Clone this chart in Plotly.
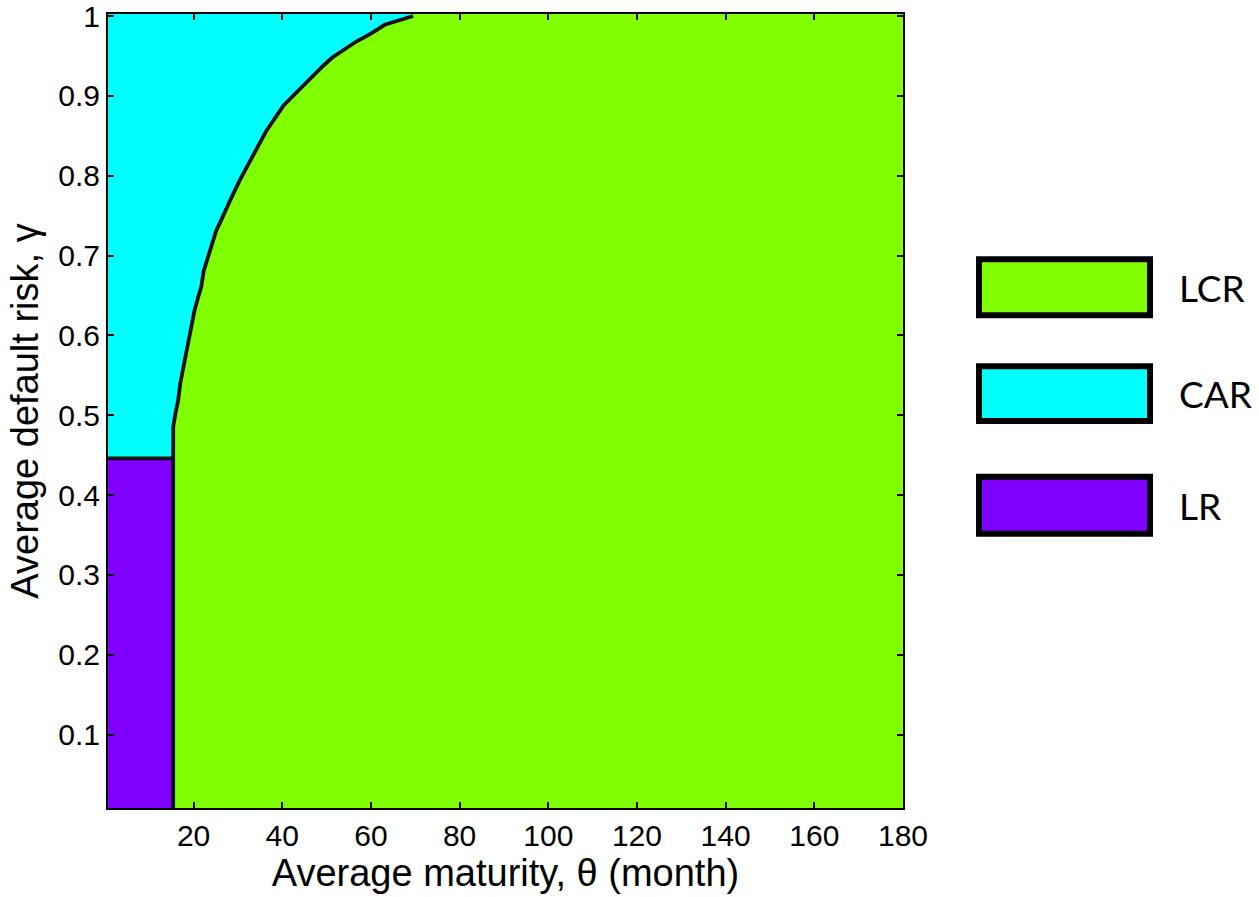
import plotly.graph_objects as go

# ---- data ----
regions = ["LCR", "CAR", "LR"]
region_colors = ["#80FF00", "#00FFFF", "#8000FF"]

# LR region: theta below this, gamma below this
lr_theta_max = 15.4
lr_gamma_max = 0.446

# CAR / LCR boundary (gamma -> theta)
gamma_boundary = [0.446, 0.468, 0.485, 0.502, 0.518, 0.540, 0.560, 0.581, 0.594, 0.615,
                  0.631, 0.647, 0.660, 0.681, 0.697, 0.715, 0.731, 0.744, 0.760, 0.772,
                  0.794, 0.820, 0.856, 0.888, 0.906, 0.928, 0.938, 0.948, 0.957, 0.968,
                  0.978, 0.989, 1.0]
theta_boundary = [15.4, 15.4, 15.4, 15.9, 16.5, 17.0, 17.7, 18.4, 18.9, 19.5,
                  20.2, 21.0, 21.7, 22.3, 23.2, 24.4, 25.1, 26.2, 27.4, 28.5,
                  30.4, 33.0, 36.4, 40.3, 43.5, 47.3, 49.3, 51.3, 53.6, 56.7,
                  60.0, 63.1, 69.5]

x_ticks = [20, 40, 60, 80, 100, 120, 140, 160, 180]
y_ticks = [0.1, 0.2, 0.3, 0.4, 0.5, 0.6, 0.7, 0.8, 0.9, 1.0]
y_ticklabels = ["0.1", "0.2", "0.3", "0.4", "0.5", "0.6", "0.7", "0.8", "0.9", "1"]

x_range = [0.7, 180]
y_range = [0.008, 1.0025]

fig = go.Figure()

# CAR region polygon
car_x = [x_range[0]] + theta_boundary + [theta_boundary[-1], x_range[0]]
car_y = [lr_gamma_max] + gamma_boundary + [y_range[1], y_range[1]]
fig.add_trace(go.Scatter(x=car_x, y=car_y, fill="toself", fillcolor=region_colors[1],
                         mode="none", showlegend=False, hoverinfo="skip"))

# LR region polygon
lr_x = [x_range[0], lr_theta_max, lr_theta_max, x_range[0]]
lr_y = [y_range[0], y_range[0], lr_gamma_max, lr_gamma_max]
fig.add_trace(go.Scatter(x=lr_x, y=lr_y, fill="toself", fillcolor=region_colors[2],
                         mode="none", showlegend=False, hoverinfo="skip"))

# contour outlines
fig.add_trace(go.Scatter(x=[lr_theta_max] + theta_boundary,
                         y=[y_range[0]] + gamma_boundary,
                         mode="lines", line=dict(color="#111111", width=3.8),
                         showlegend=False, hoverinfo="skip"))
fig.add_trace(go.Scatter(x=[x_range[0], lr_theta_max], y=[lr_gamma_max, lr_gamma_max],
                         mode="lines", line=dict(color="#111111", width=3.8),
                         showlegend=False, hoverinfo="skip"))

axis_common = dict(showline=True, linecolor="black", linewidth=2, mirror="ticks",
                   ticks="inside", ticklen=6, tickwidth=1.5, tickcolor="black",
                   showgrid=False, zeroline=False, automargin=False,
                   ticklabeloverflow="allow",
                   tickfont=dict(family="Liberation Sans", size=30, color="black"))

fig.update_xaxes(range=x_range, tickvals=x_ticks, **axis_common,
                 title=dict(text="Average maturity, θ (month)",
                            font=dict(family="Liberation Sans", size=38, color="black"),
                            standoff=5))
fig.update_yaxes(range=y_range, tickvals=y_ticks, ticktext=y_ticklabels, **axis_common,
                 title=dict(text="Average default risk, γ",
                            font=dict(family="Liberation Sans", size=38, color="black"),
                            standoff=8))

# custom legend
legend_boxes = [(0.6910, 0.6206), (0.5565, 0.4874), (0.4171, 0.3455)]
shapes = []
annotations = []
for name, col, (y1, y0) in zip(regions, region_colors, legend_boxes):
    shapes.append(dict(type="rect", xref="paper", yref="paper", x0=1.0956, x1=1.3107,
                       y0=y0, y1=y1, fillcolor=col, line=dict(color="black", width=6)))
    annotations.append(dict(xref="paper", yref="paper", x=1.3447, y=(y0 + y1) / 2,
                            text=name, showarrow=False, xanchor="left", yanchor="middle",
                            font=dict(family="Lato", size=37, color="black")))

fig.update_layout(width=1259, height=897, plot_bgcolor=region_colors[0],
                  paper_bgcolor="white",
                  margin=dict(l=108, r=356, t=14, b=89, autoexpand=False),
                  shapes=shapes, annotations=annotations, showlegend=False)

fig.write_html("out.html", config={"displayModeBar": False},
               post_script="document.body.style.margin='0';")
